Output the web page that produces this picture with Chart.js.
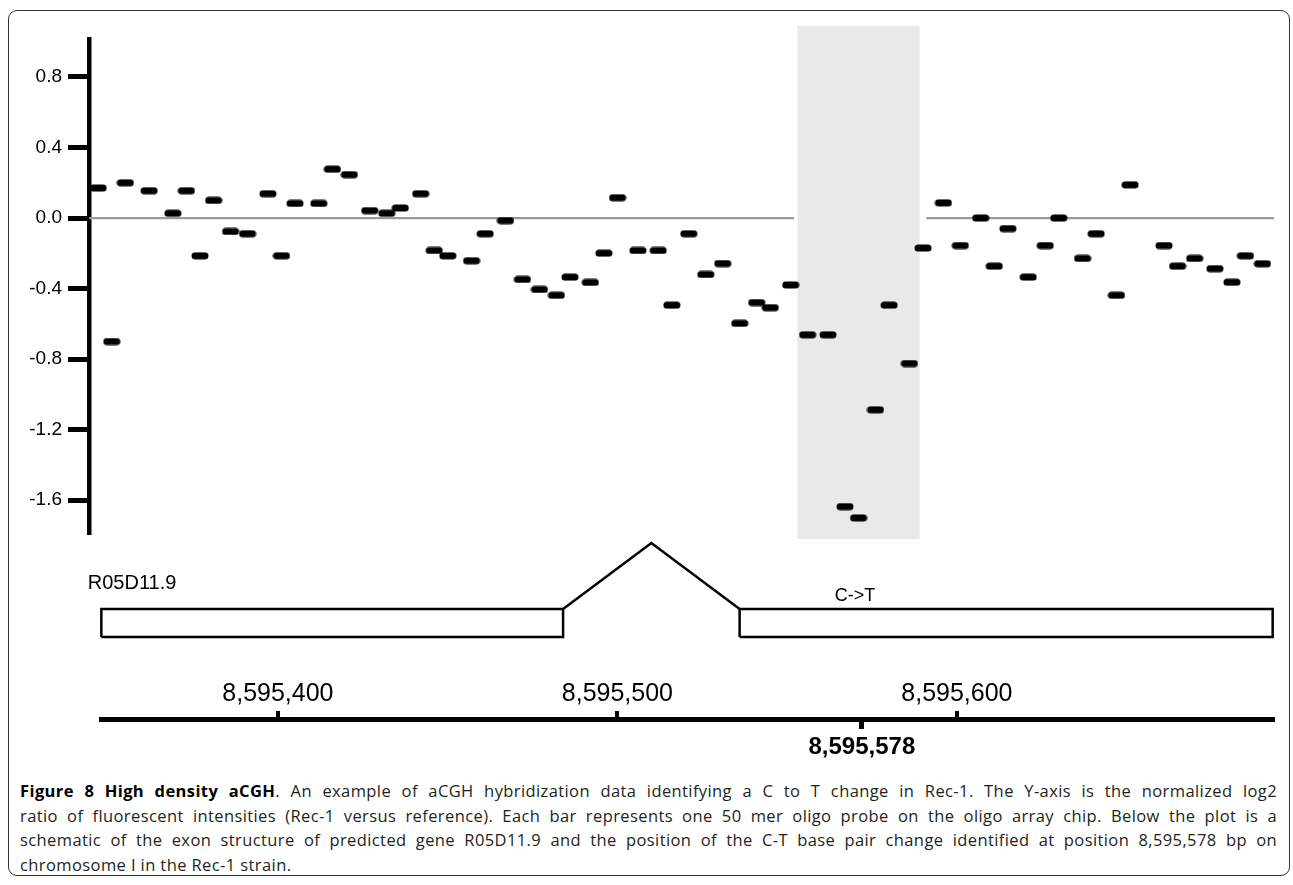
<!DOCTYPE html>
<html>
<head>
<meta charset="utf-8">
<script src="https://cdn.jsdelivr.net/npm/chart.js@4.4.1/dist/chart.umd.min.js"></script>
<style>
  body { margin: 0; background: #fff; }
  #page { position: relative; width: 1293px; height: 885px; overflow: hidden; background: #fff; }
  .frame { position: absolute; left: 8px; top: 10px; width: 1282px; height: 866px; box-sizing: border-box;
           border: 1.5px solid #333; border-radius: 9px; }
  canvas { position: absolute; left: 0; }
  #probeChart { top: 0; }
  #geneChart { top: 530px; }
  #posChart { top: 659px; }
  .caption { position: absolute; left: 20px; top: 779px; width: 1257px; font-family: 'Open Sans', sans-serif;
             font-size: 16.5px; letter-spacing: 0.4px; line-height: 24.5px; color: #231f20; }
  .caption div { text-align: justify; text-align-last: justify; white-space: nowrap; }
  .caption div.last { text-align-last: left; }
  .caption b { color: #000; }
</style>
</head>
<body>
<div id="page">
  <div class="frame"></div>
  <canvas id="probeChart" width="1293" height="560"></canvas>
  <canvas id="geneChart" width="1293" height="120"></canvas>
  <canvas id="posChart" width="1293" height="112"></canvas>
  <div class="caption">
    <div><b>Figure 8 High density aCGH</b>. An example of aCGH hybridization data identifying a C to T change in Rec-1. The Y-axis is the normalized log2</div>
    <div>ratio of fluorescent intensities (Rec-1 versus reference). Each bar represents one 50 mer oligo probe on the oligo array chip. Below the plot is a</div>
    <div>schematic of the exon structure of predicted gene R05D11.9 and the position of the C-T base pair change identified at position 8,595,578 bp on</div>
    <div class="last">chromosome I in the Rec-1 strain.</div>
  </div>
</div>
<script>
// probe positions (bp on chromosome I) and normalized log2 ratios
const probePos = [
  8595347, 8595351, 8595355, 8595362, 8595369, 8595373, 8595377, 8595381, 8595386, 8595391,
  8595397, 8595401, 8595405, 8595412, 8595416, 8595421, 8595427, 8595432, 8595436, 8595442,
  8595446, 8595450, 8595457, 8595461, 8595467, 8595472, 8595477, 8595482, 8595486, 8595492,
  8595496, 8595500, 8595506, 8595512, 8595516, 8595521, 8595526, 8595531, 8595536, 8595541,
  8595545, 8595551, 8595556, 8595562, 8595567, 8595571, 8595576, 8595580, 8595586, 8595590,
  8595596, 8595601, 8595607, 8595611, 8595615, 8595621, 8595626, 8595630, 8595637, 8595641,
  8595647, 8595651, 8595661, 8595665, 8595670, 8595676, 8595681, 8595685, 8595690
];
const log2Ratio = [
  0.17, -0.70, 0.20, 0.155, 0.027, 0.155, -0.214, 0.10, -0.076, -0.089,
  0.138, -0.214, 0.083, 0.083, 0.277, 0.246, 0.042, 0.027, 0.057, 0.138,
  -0.184, -0.214, -0.242, -0.089, -0.015, -0.348, -0.405, -0.438, -0.335, -0.365,
  -0.199, 0.115, -0.184, -0.184, -0.494, -0.089, -0.32, -0.258, -0.597, -0.479,
  -0.508, -0.379, -0.662, -0.662, -1.636, -1.70, -1.087, -0.494, -0.825, -0.17,
  0.086, -0.156, 0.0, -0.273, -0.06, -0.335, -0.156, 0.0, -0.229, -0.089,
  -0.438, 0.188, -0.156, -0.273, -0.229, -0.287, -0.364, -0.214, -0.259
];
const yTicks = [0.8, 0.4, 0.0, -0.4, -0.8, -1.2, -1.6];
const shadedBp = [8595553, 8595589];
const shadedY = [-1.82, 1.09];
const zeroLineGap = [8595552, 8595591];

// gene model and coordinate axis
const geneName = 'R05D11.9';
const changeLabel = 'C->T';
const exons = [[8595348, 8595484], [8595536, 8595693]];
const positionTicks = [8595400, 8595500, 8595600];
const mutationLabel = '8,595,578';
const mutationTickAt = 8595572; // where the figure draws the 8,595,578 tick (schematic)

// x ranges of the plot areas
const probeXMin = 8595344.3, probeXMax = 8595693.4;
const axisXMin = 8595347.9, axisXMax = 8595693.1;

const FONT = 'Liberation Sans, Arial, sans-serif';

// rounded black dash used for each probe
function dashStyle() {
  const c = document.createElement('canvas');
  c.width = 18; c.height = 8;
  const g = c.getContext('2d');
  g.fillStyle = '#000';
  g.beginPath();
  g.roundRect(0.5, 0.5, 17, 7, 3.5);
  g.fill();
  return c;
}

const shadePlugin = {
  id: 'shade',
  beforeDatasetsDraw(chart) {
    const { ctx, scales: { x, y } } = chart;
    const l = x.getPixelForValue(shadedBp[0]), r = x.getPixelForValue(shadedBp[1]);
    const t = y.getPixelForValue(shadedY[1]), b = y.getPixelForValue(shadedY[0]);
    ctx.save();
    ctx.fillStyle = '#e9e9e9';
    ctx.fillRect(l, t, r - l, b - t);
    ctx.restore();
  }
};

const zeroLine = [
  { x: probeXMin, y: 0 }, { x: zeroLineGap[0], y: 0 },
  { x: (zeroLineGap[0] + zeroLineGap[1]) / 2, y: null },
  { x: zeroLineGap[1], y: 0 }, { x: probeXMax, y: 0 }
];

new Chart(document.getElementById('probeChart'), {
  type: 'scatter',
  data: {
    datasets: [
      { type: 'line', data: zeroLine, borderColor: '#9a9a9a', borderWidth: 2.2, pointRadius: 0, spanGaps: false, order: 2 },
      { data: probePos.map((x, i) => ({ x, y: log2Ratio[i] })), pointStyle: dashStyle(), pointRadius: 8, clip: false, order: 1 }
    ]
  },
  options: {
    responsive: false,
    animation: false,
    events: [],
    layout: { padding: { top: 39, bottom: 28, left: 0, right: 19 } },
    plugins: { legend: { display: false }, tooltip: { enabled: false } },
    scales: {
      x: { type: 'linear', display: false, min: probeXMin, max: probeXMax },
      y: {
        min: -1.78, max: 1.015,
        afterBuildTicks: s => { s.ticks = yTicks.map(v => ({ value: v })); },
        afterFit: s => { s.width = 89; },
        border: { display: true, color: '#000', width: 4.5 },
        grid: { drawOnChartArea: false, drawTicks: true, tickLength: 21, lineWidth: 5, tickWidth: 5, color: '#000', tickColor: '#000' },
        ticks: { padding: 6, color: '#000', font: { family: FONT, size: 19 }, callback: v => v.toFixed(1) }
      }
    }
  },
  plugins: [shadePlugin]
});

// gene schematic: exon boxes and intron
const exonBottom = 3, exonTop = 31, intronPeak = 97;
const exonSets = exons.map(([s, e]) => ({
  data: [{ x: s, y: exonBottom }, { x: s, y: exonTop }, { x: e, y: exonTop }, { x: e, y: exonBottom }, { x: s, y: exonBottom }],
  borderColor: '#000', borderWidth: 2.5, pointRadius: 0, borderJoinStyle: 'miter', clip: false
}));
const intron = {
  data: [{ x: exons[0][1], y: exonTop }, { x: (exons[0][1] + exons[1][0]) / 2, y: intronPeak }, { x: exons[1][0], y: exonTop }],
  borderColor: '#000', borderWidth: 2.5, pointRadius: 0, borderJoinStyle: 'miter', clip: false
};

const geneLabels = {
  id: 'geneLabels',
  afterDatasetsDraw(chart) {
    const { ctx, scales: { x, y } } = chart;
    ctx.save();
    ctx.fillStyle = '#000';
    ctx.textBaseline = 'middle';
    ctx.font = '20px ' + FONT;
    ctx.textAlign = 'left';
    ctx.fillText(geneName, x.getPixelForValue(8595344), y.getPixelForValue(57));
    ctx.font = '18px ' + FONT;
    ctx.textAlign = 'center';
    ctx.fillText(changeLabel, x.getPixelForValue(8595570), y.getPixelForValue(44));
    ctx.restore();
  }
};

new Chart(document.getElementById('geneChart'), {
  type: 'line',
  data: { datasets: [...exonSets, intron] },
  options: {
    responsive: false,
    animation: false,
    events: [],
    layout: { padding: { top: 10, bottom: 10, left: 101, right: 20 } },
    plugins: { legend: { display: false }, tooltip: { enabled: false } },
    scales: {
      x: { type: 'linear', display: false, min: axisXMin, max: axisXMax },
      y: { display: false, min: 0, max: 100 }
    }
  },
  plugins: [geneLabels]
});

// chromosome coordinate axis
new Chart(document.getElementById('posChart'), {
  type: 'scatter',
  data: { datasets: [{ data: [] }] },
  options: {
    responsive: false,
    animation: false,
    events: [],
    layout: { padding: { top: 0, bottom: 0, left: 101, right: 20 } },
    plugins: { legend: { display: false }, tooltip: { enabled: false } },
    scales: {
      x: {
        type: 'linear', position: 'top', min: axisXMin, max: axisXMax,
        afterBuildTicks: s => { s.ticks = positionTicks.map(v => ({ value: v })); },
        afterFit: s => { s.height = 60; },
        border: { display: true, color: '#000', width: 5 },
        grid: { drawOnChartArea: false, tickLength: 8, lineWidth: 4, tickWidth: 4, color: '#000', tickColor: '#000' },
        ticks: { padding: 2, color: '#000', maxRotation: 0, font: { family: FONT, size: 25 },
                 callback: v => v.toLocaleString('en-US') }
      },
      x2: {
        type: 'linear', position: 'bottom', axis: 'x', min: axisXMin, max: axisXMax,
        afterBuildTicks: s => { s.ticks = [{ value: mutationTickAt }]; },
        afterFit: s => { s.height = 50; },
        border: { display: false },
        grid: { drawOnChartArea: false, tickLength: 8, lineWidth: 5, tickWidth: 5, color: '#000', tickColor: '#000' },
        ticks: { padding: 4, color: '#000', maxRotation: 0, font: { family: FONT, size: 24, weight: 'bold' },
                 callback: () => mutationLabel }
      },
      y: { display: false, min: 0, max: 1 }
    }
  }
});
</script>
</body>
</html>
